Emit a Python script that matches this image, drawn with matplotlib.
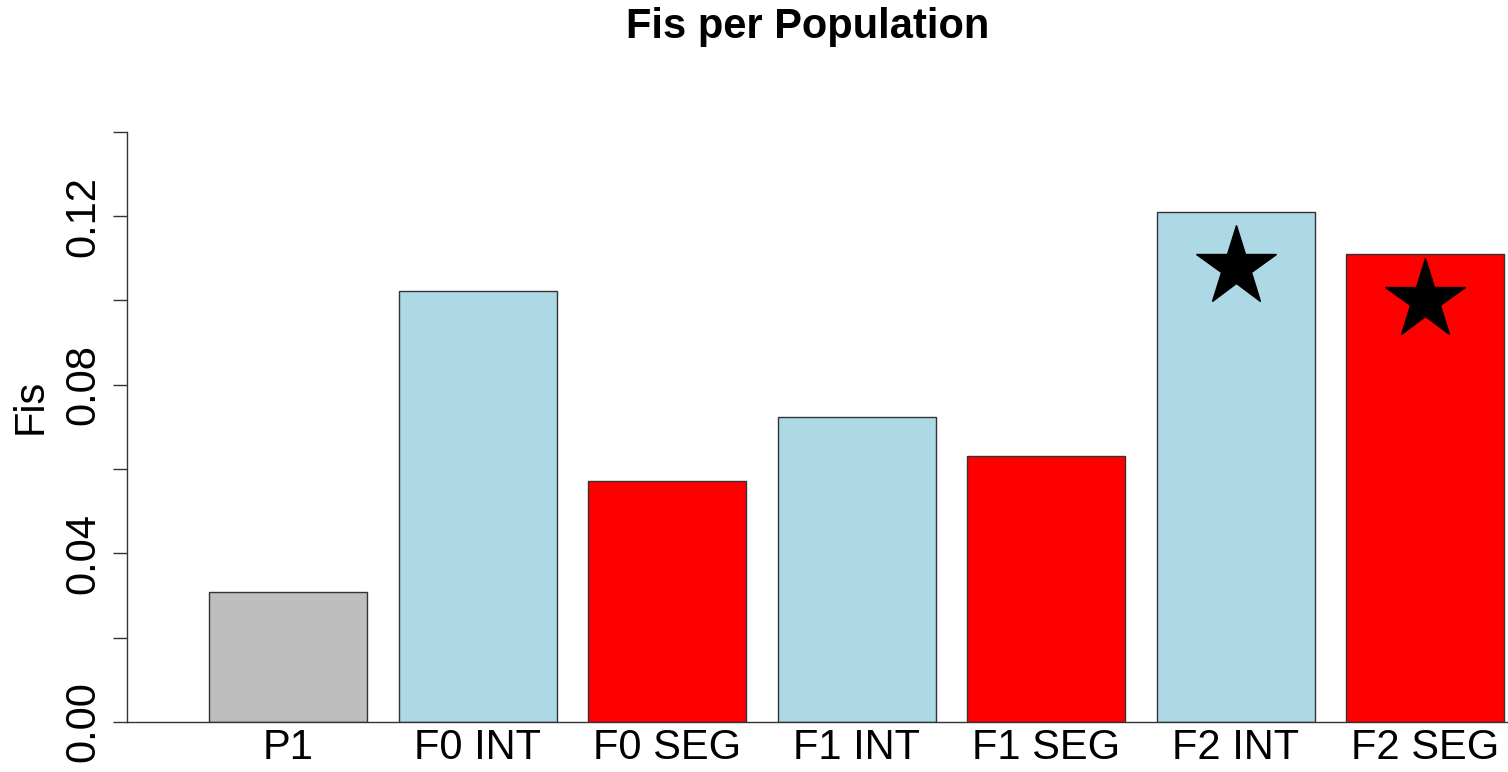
import matplotlib
matplotlib.use("Agg")
import matplotlib.pyplot as plt

# Inbreeding coefficient per population
populations = ["P1", "F0 INT", "F0 SEG", "F1 INT", "F1 SEG", "F2 INT", "F2 SEG"]
fis_values = [0.0308, 0.1022, 0.0572, 0.0723, 0.0631, 0.1210, 0.1111]
bar_colors = ["#BEBEBE", "#ADD8E6", "#FF0000", "#ADD8E6", "#FF0000", "#ADD8E6", "#FF0000"]

# Populations flagged with a star, and the height of each star
starred = ["F2 INT", "F2 SEG"]
star_heights = [0.108, 0.100]

y_ticks = [0.00, 0.02, 0.04, 0.06, 0.08, 0.10, 0.12, 0.14]
y_tick_labels = ["0.00", "", "0.04", "", "0.08", "", "0.12", ""]

plt.rcParams["font.family"] = ["Liberation Sans", "DejaVu Sans"]

W, H = 1508, 772
fig = plt.figure(figsize=(W / 100, H / 100), dpi=100)
ax = fig.add_axes([127 / W, (H - 722) / H, (W - 127) / W, (722 - 131.7) / H])

x = list(range(len(populations)))
ax.bar(x, fis_values, width=1 / 1.2, color=bar_colors,
       edgecolor="#333333", linewidth=1.0, zorder=2)

for name, yv in zip(starred, star_heights):
    ax.plot(populations.index(name), yv, marker="*", markersize=60,
            color="black", linestyle="none", zorder=3)

ax.set_xlim(-0.851, 6.437)
ax.set_ylim(0, 0.14)

ax.set_xticks(x)
ax.set_xticklabels(populations, fontsize=30)
ax.tick_params(axis="x", length=0, pad=4)

ax.set_yticks(y_ticks)
ax.set_yticklabels(y_tick_labels, fontsize=30, rotation=90, va="center")
ax.tick_params(axis="y", length=10, width=1.0, pad=7, color="#333333")

for side in ("top", "right"):
    ax.spines[side].set_visible(False)
ax.spines["left"].set_color("#333333")
ax.spines["bottom"].set_color("#333333")
ax.spines["left"].set_linewidth(1.0)
ax.spines["bottom"].set_linewidth(1.0)

fig.text(31 / W, 1 - 406 / H, "Fis", rotation=90, fontsize=30,
         ha="center", va="center")
fig.text(808 / W, 1 - 27 / H, "Fis per Population", fontsize=30,
         fontweight="bold", ha="center", va="center")

fig.savefig("out.png", dpi=100)
